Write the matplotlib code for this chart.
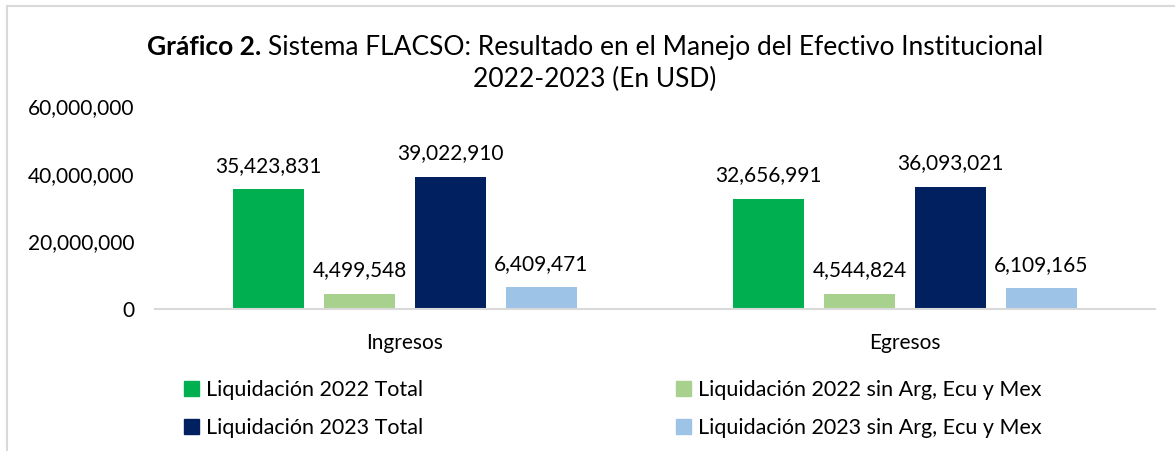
import numpy as np
import matplotlib
matplotlib.use("Agg")
import matplotlib.pyplot as plt
from matplotlib.patches import Patch
from matplotlib.lines import Line2D

plt.rcParams['font.family'] = ['Lato', 'DejaVu Sans']

categories = ['Ingresos', 'Egresos']
series_names = ['Liquidación 2022 Total', 'Liquidación 2022 sin Arg, Ecu y Mex',
                'Liquidación 2023 Total', 'Liquidación 2023 sin Arg, Ecu y Mex']
values = [
    [35423831, 32656991],
    [4499548, 4544824],
    [39022910, 36093021],
    [6409471, 6109165],
]
colors = ['#00B050', '#A9D18E', '#002060', '#9DC3E6']
yticks = [0, 20000000, 40000000, 60000000]

W, H = 1175, 451
fig = plt.figure(figsize=(W / 100, H / 100), dpi=100)
ax = fig.add_axes([155 / W, (H - 309) / H, 1000 / W, 203 / H])

x = np.arange(len(categories))
width = 0.142
step = 0.182
fs = 15
tfs = 19

for i, (name, vals, col) in enumerate(zip(series_names, values, colors)):
    pos = x + (i - 1.5) * step
    bars = ax.bar(pos, vals, width, color=col, label=name)
    for b, v in zip(bars, vals):
        ax.text(b.get_x() + b.get_width() / 2, v + 4000000, f"{v:,}",
                ha='center', va='bottom', fontsize=fs, color='#000000')

ax.set_xlim(-0.5, 1.5)
ax.set_ylim(0, 60000000)
ax.set_yticks(yticks)
ax.set_yticklabels([f"{t:,}" for t in yticks], fontsize=fs)
ax.set_xticks(x)
ax.set_xticklabels(categories, fontsize=fs)
ax.tick_params(axis='both', length=0)
ax.tick_params(axis='y', pad=15)
ax.tick_params(axis='x', pad=17)
for s in ['top', 'right', 'left']:
    ax.spines[s].set_visible(False)
ax.spines['bottom'].set_color('#D9D9D9')
ax.spines['bottom'].set_linewidth(1.5)

# title with bold prefix, built from two pieces centred together
y1 = 1 - 47 / H
bold_part = "Gráfico 2."
rest = "Sistema FLACSO: Resultado en el Manejo del Efectivo Institucional"
tb = fig.text(0, y1, bold_part, fontsize=tfs, fontweight='bold', ha='left', va='center')
tr = fig.text(0, y1, rest, fontsize=tfs, ha='left', va='center')
fig.canvas.draw()
r = fig.canvas.get_renderer()
wb = tb.get_window_extent(r).width
wr = tr.get_window_extent(r).width
gap = 6
left = 595 - (wb + gap + wr) / 2
tb.set_x(left / W)
tr.set_x((left + wb + gap) / W)
fig.text(595 / W, 1 - 79 / H, "2022-2023 (En USD)", fontsize=tfs, ha='center', va='center')

handles = [Patch(color=c) for c in colors]
leg_kw = dict(frameon=False, fontsize=15.5, handlelength=0.7, handleheight=0.7,
              handletextpad=0.3, labelspacing=0.85, borderpad=0, borderaxespad=0)
leg1 = fig.legend([handles[0], handles[2]], [series_names[0], series_names[2]],
                  loc='upper left', bbox_to_anchor=(184 / W, 1 - 380 / H), **leg_kw)
leg2 = fig.legend([handles[1], handles[3]], [series_names[1], series_names[3]],
                  loc='upper left', bbox_to_anchor=(676 / W, 1 - 380 / H), **leg_kw)

fig.add_artist(Line2D([6.5 / W, 1], [1 - 5.5 / H, 1 - 5.5 / H], color='#D9D9D9', lw=1.5,
                      transform=fig.transFigure))
fig.add_artist(Line2D([6.5 / W, 6.5 / W], [0, 1 - 5.5 / H], color='#D9D9D9', lw=1.5,
                      transform=fig.transFigure))

fig.savefig('out.png', dpi=100)
